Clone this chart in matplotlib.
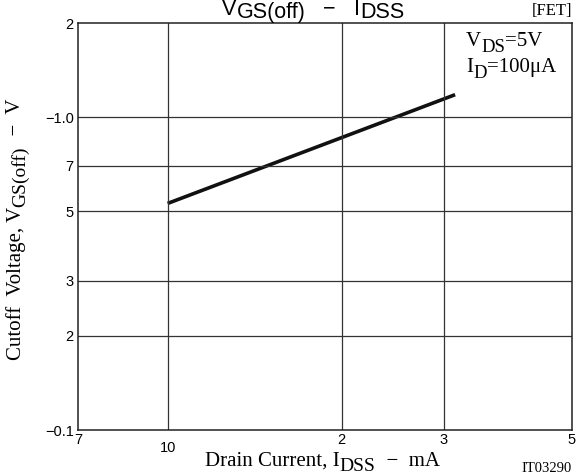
import numpy as np
import matplotlib.pyplot as plt
from matplotlib.ticker import FixedLocator, FixedFormatter, NullFormatter

# data (IDSS in mA, |VGS(off)| in V)
idss = [10.0, 31.4]
vgs_off = [0.53, 1.18]

x_major = [7, 20, 30, 50]
x_major_labels = ['7', '2', '3', '5']
x_minor = [10]
x_minor_labels = ['10']
y_ticks = [0.1, 0.2, 0.3, 0.5, 0.7, 1.0, 2.0]
y_labels = ['\u22120.1', '2', '3', '5', '7', '\u22121.0', '2']

sans = 'Liberation Sans'
serif = 'Liberation Serif'
W, H = 576, 475

fig = plt.figure(figsize=(5.76, 4.75), dpi=100)
ax = fig.add_axes([78 / W, 1 - 430 / H, (572 - 78) / W, (430 - 23) / H])

ax.set_xscale('log')
ax.set_yscale('log')
ax.set_xlim(7, 50)
ax.set_ylim(0.1, 2)

ax.plot(idss, vgs_off, color='#111111', lw=2.6, solid_capstyle='butt')

for xv in [10, 20, 30]:
    ax.axvline(xv, color='#333333', lw=0.9)
for yv in [0.2, 0.3, 0.5, 0.7, 1.0]:
    ax.axhline(yv, color='#333333', lw=0.9)

ax.xaxis.set_major_locator(FixedLocator(x_major))
ax.xaxis.set_major_formatter(FixedFormatter(x_major_labels))
ax.xaxis.set_minor_locator(FixedLocator(x_minor))
ax.xaxis.set_minor_formatter(FixedFormatter(x_minor_labels))
ax.yaxis.set_major_locator(FixedLocator(y_ticks))
ax.yaxis.set_major_formatter(FixedFormatter(y_labels))
ax.yaxis.set_minor_locator(FixedLocator([]))
ax.yaxis.set_minor_formatter(NullFormatter())

ax.tick_params(axis='x', which='major', length=0, pad=2, labelsize=10.5)
ax.tick_params(axis='x', which='minor', length=0, pad=8, labelsize=10.5)
ax.tick_params(axis='y', length=0, pad=3, labelsize=10.5)
for lbl in ax.get_xticklabels(which='both') + ax.get_yticklabels():
    lbl.set_family(sans)

for sp in ax.spines.values():
    sp.set_linewidth(1.1)
    sp.set_color('#222222')


def chain(x, y, pieces, family, rotation=0):
    """Write text pieces one after another; each piece is (text, size, shift in pt)."""
    s, size, _ = pieces[0]
    if rotation == 0:
        prev = fig.text(x / W, 1 - y / H, s, family=family, fontsize=size,
                        ha='left', va='baseline')
    else:
        prev = fig.text(x / W, 1 - y / H, s, family=family, fontsize=size,
                        ha='left', va='bottom', rotation=90)
    for s, size, shift in pieces[1:]:
        if rotation == 0:
            prev = ax.annotate(s, xy=(1, 0), xycoords=prev, xytext=(0, -shift),
                               textcoords='offset points', family=family, fontsize=size,
                               ha='left', va='bottom', annotation_clip=False)
        else:
            prev = ax.annotate(s, xy=(0, 1), xycoords=prev, xytext=(shift, 0),
                               textcoords='offset points', family=family, fontsize=size,
                               ha='left', va='bottom', rotation=90, annotation_clip=False)
    return prev


# title
chain(222, 15, [('V', 15.5, 0), ('GS(off)', 15.5, 2.5), ('   \u2212   ', 15.5, -2.5),
                ('I', 15.5, 0), ('DSS', 15.5, 2.5)], sans)
fig.text(572 / W, 1 - 15 / H, '[FET]', family=serif, fontsize=12, ha='right', va='baseline')

# condition note
chain(466, 46, [('V', 15, 0), ('DS', 13.5, 3.5), ('=5V', 15, -3.5)], serif)
chain(466, 72, [('I', 15, 0), ('D', 13.5, 3.5), ('=100\u03bcA', 15, -3.5)], serif)

# axis labels
chain(205, 466, [('Drain Current, I', 15, 0), ('DSS', 14, 3),
                 ('  \u2212  mA', 15, -3)], serif)
fig.text(572 / W, 1 - 472 / H, 'IT03290', family=serif, fontsize=10.5,
         ha='right', va='baseline')

chain(6, 360, [('Cutoff  Voltage, V', 15, 0), ('GS(off)', 14, 4),
               ('  \u2212  V', 15, -4)], serif, rotation=90)

fig.savefig('out.png', dpi=100)
